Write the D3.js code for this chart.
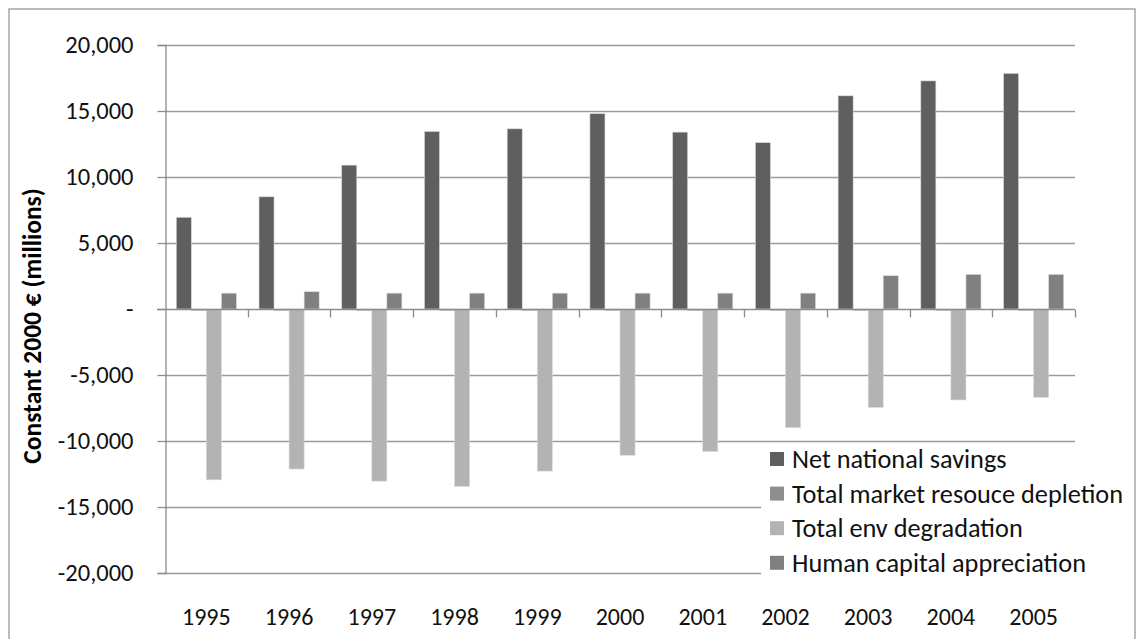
<!DOCTYPE html>
<html>
<head>
<meta charset="utf-8">
<script src="https://cdn.jsdelivr.net/npm/d3@7"></script>
<style>
  html, body { margin: 0; padding: 0; background: #fff; }
  svg { display: block; font-family: Carlito, Lato, "Liberation Sans", sans-serif; }
</style>
</head>
<body>
<svg id="chart" width="1139" height="639"></svg>
<script>
// Genuine savings components, constant 2000 € (millions)
const years = ["1995", "1996", "1997", "1998", "1999", "2000", "2001", "2002", "2003", "2004", "2005"];
const seriesNames = ["Net national savings", "Total market resouce depletion", "Total env degradation", "Human capital appreciation"];
const netNationalSavings = [6950, 8500, 10900, 13450, 13650, 14800, 13400, 12600, 16150, 17280, 17850];
const marketResourceDepletion = [-130, -130, -130, -130, -130, -130, -130, -130, -130, -130, -130];
const envDegradation = [-12940, -12120, -13040, -13440, -12280, -11080, -10800, -8990, -7450, -6890, -6690];
const humanCapital = [1200, 1310, 1200, 1200, 1200, 1200, 1200, 1200, 2520, 2620, 2620];
const yTicks = [-20000, -15000, -10000, -5000, 0, 5000, 10000, 15000, 20000];
const seriesColors = ["#5f5f5f", "#8e8e8e", "#b3b3b3", "#808080"];

const seriesValues = [netNationalSavings, marketResourceDepletion, envDegradation, humanCapital];
const rows = years.map((yr, i) => ({
  year: yr,
  values: seriesNames.map((name, s) => ({ name, color: seriesColors[s], value: seriesValues[s][i] }))
}));

const svg = d3.select("#chart");
const plot = { left: 165, right: 1075, top: 45, bottom: 573 };

// Outer chart frame
svg.append("rect")
  .attr("x", 9).attr("y", 9).attr("width", 1126).attr("height", 660)
  .attr("fill", "#fff").attr("stroke", "#a6a6a6").attr("stroke-width", 1.5);

const x0 = d3.scaleBand().domain(years).range([plot.left, plot.right]).padding(0);
const x1 = d3.scaleBand().domain(seriesNames).range([0, x0.bandwidth()]).paddingInner(0).paddingOuter(0.75);
const y = d3.scaleLinear().domain([-20000, 20000]).range([plot.bottom, plot.top]);

// Thousands separators with a plain hyphen for negatives, dash for zero
const fmt = d => d === 0 ? "-" : d3.format(",")(d).replace("\u2212", "-");

// Horizontal gridlines
svg.append("g")
  .selectAll("line")
  .data(yTicks.filter(t => t !== 0))
  .join("line")
  .attr("x1", plot.left).attr("x2", plot.right)
  .attr("y1", d => Math.round(y(d)) + 0.5).attr("y2", d => Math.round(y(d)) + 0.5)
  .attr("stroke", "#9a9a9a").attr("stroke-width", 1.3);

// Y axis with outward ticks
const yAxis = svg.append("g")
  .attr("transform", `translate(${plot.left + 0.5},0)`)
  .call(d3.axisLeft(y).tickValues(yTicks).tickSize(8).tickPadding(24).tickFormat(fmt));
yAxis.select(".domain").attr("stroke", "#8c8c8c").attr("stroke-width", 1.3);
yAxis.selectAll(".tick line").attr("stroke", "#8c8c8c").attr("stroke-width", 1.3);
yAxis.selectAll(".tick text")
  .attr("font-size", 24.5).attr("fill", "#111")
  .attr("font-family", "Carlito, Lato, sans-serif");

// Bars
const groups = svg.append("g")
  .selectAll("g")
  .data(rows)
  .join("g")
  .attr("transform", d => `translate(${x0(d.year)},0)`);

groups.selectAll("rect")
  .data(d => d.values)
  .join("rect")
  .attr("x", d => x1(d.name))
  .attr("width", x1.bandwidth())
  .attr("y", d => y(Math.max(0, d.value)))
  .attr("height", d => Math.abs(y(d.value) - y(0)))
  .attr("fill", d => d.color)
  .attr("stroke", "#d9d9d9").attr("stroke-width", 0.6);

// Category axis on the zero line, ticks pointing down between years
const zeroY = Math.round(y(0)) + 0.5;
svg.append("line")
  .attr("x1", plot.left - 8).attr("x2", plot.right)
  .attr("y1", zeroY).attr("y2", zeroY)
  .attr("stroke", "#8c8c8c").attr("stroke-width", 1.3);

const boundaries = years.map(yr => x0(yr)).concat([x0(years[years.length - 1]) + x0.bandwidth()]).slice(1);
svg.append("g")
  .selectAll("line")
  .data(boundaries)
  .join("line")
  .attr("x1", d => Math.round(d) + 0.5).attr("x2", d => Math.round(d) + 0.5)
  .attr("y1", zeroY).attr("y2", zeroY + 8)
  .attr("stroke", "#8c8c8c").attr("stroke-width", 1.3);

// Year labels along the bottom
svg.append("g")
  .selectAll("text")
  .data(years)
  .join("text")
  .attr("x", d => x0(d) + x0.bandwidth() / 2)
  .attr("y", 625)
  .attr("text-anchor", "middle")
  .attr("font-size", 24).attr("fill", "#111")
  .text(d => d);

// Y axis title
svg.append("text")
  .attr("transform", "translate(41,326) rotate(-90)")
  .attr("text-anchor", "middle")
  .attr("font-size", 25.5).attr("font-weight", "bold").attr("fill", "#000")
  .text("Constant 2000 € (millions)");

// Legend
const legend = svg.append("g");
legend.append("rect")
  .attr("x", 761).attr("y", 443).attr("width", 372).attr("height", 142)
  .attr("fill", "#fff");
const items = legend.selectAll("g")
  .data(seriesNames.map((n, i) => ({ name: n, color: seriesColors[i] })))
  .join("g")
  .attr("transform", (d, i) => `translate(770,${459 + i * 34.6})`);
items.append("rect")
  .attr("x", 0).attr("y", -7).attr("width", 14).attr("height", 14)
  .attr("fill", d => d.color);
items.append("text")
  .attr("x", 22).attr("y", 0).attr("dy", "0.35em")
  .attr("font-size", 26.3).attr("fill", "#111")
  .text(d => d.name);
</script>
</body>
</html>
